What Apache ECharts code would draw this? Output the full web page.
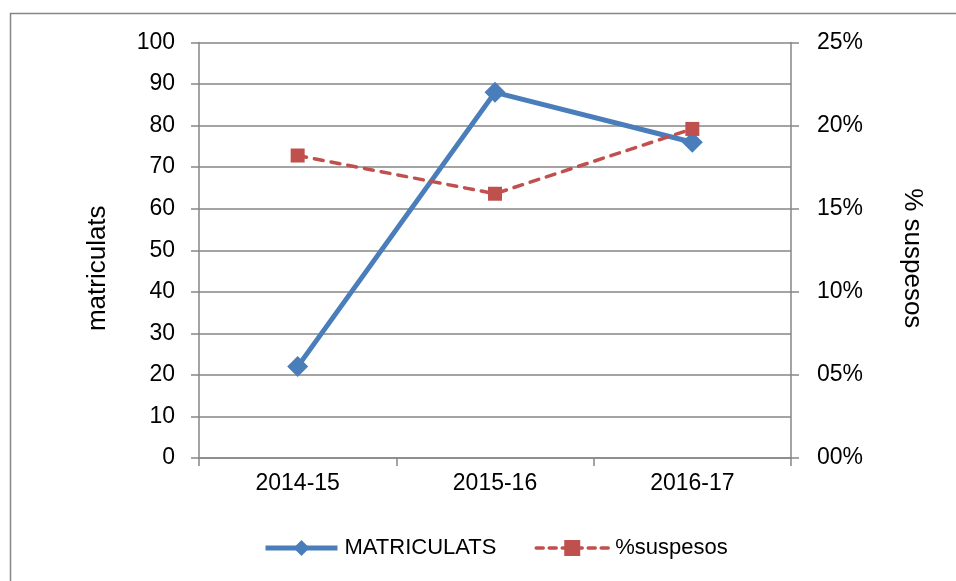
<!DOCTYPE html>
<html>
<head>
<meta charset="utf-8">
<script src="https://cdn.jsdelivr.net/npm/echarts@6/dist/echarts.min.js"></script>
<style>
html,body{margin:0;padding:0;background:#fff;}
#chart{width:956px;height:581px;}
</style>
</head>
<body>
<div id="chart"></div>
<script>
const categories = ['2014-15', '2015-16', '2016-17'];
const matriculats = [22, 88, 76];
const suspesos = [0.182, 0.159, 0.198];
const leftTicks = [0, 100, 10];
const rightTicks = [0, 0.25, 0.05];

const FONT = 'Liberation Sans';
const GRAY = '#868686';
const BLUE = '#4A7EBB';
const RED = '#C0504D';
const chart = echarts.init(document.getElementById('chart'));
chart.setOption({
  animation: false,
  backgroundColor: '#fff',
  textStyle: { fontFamily: FONT, color: '#000' },
  graphic: [{
    type: 'rect', silent: true, z: -1,
    shape: { x: 10.5, y: 13.5, width: 1000, height: 1000 },
    style: { fill: 'none', stroke: GRAY, lineWidth: 1.5 }
  }],
  grid: { left: 199, right: 165, top: 42.5, bottom: 123, containLabel: false },
  legend: {
    bottom: 22,
    left: 263,
    padding: 0,
    itemWidth: 72,
    itemHeight: 20,
    itemGap: 38,
    textStyle: { fontFamily: FONT, fontSize: 22, color: '#000', padding: [0, 0, 0, 2] },
    data: [
      { name: 'MATRICULATS', itemStyle: { color: BLUE }, lineStyle: { color: BLUE, width: 5 } },
      { name: '%suspesos', itemStyle: { color: RED }, lineStyle: { color: RED, width: 3.5, type: [7, 6], cap: 'round' } }
    ]
  },
  xAxis: {
    type: 'category',
    data: categories,
    boundaryGap: true,
    axisLine: { lineStyle: { color: GRAY, width: 1.5 } },
    axisTick: { show: true, length: 8, lineStyle: { color: GRAY, width: 1.5 } },
    axisLabel: { fontFamily: FONT, fontSize: 23, color: '#000', margin: 14 },
    splitLine: { show: false }
  },
  yAxis: [{
    type: 'value',
    min: leftTicks[0], max: leftTicks[1], interval: leftTicks[2],
    name: 'matriculats',
    nameLocation: 'middle',
    nameRotate: 90,
    nameGap: 88,
    nameTextStyle: { fontFamily: FONT, fontSize: 26, color: '#000', padding: [0, 36, 0, 0] },
    axisLine: { show: true, lineStyle: { color: GRAY, width: 1.5 } },
    axisTick: { show: true, length: 8, lineStyle: { color: GRAY, width: 1.5 } },
    axisLabel: { fontFamily: FONT, fontSize: 23, color: '#000', margin: 24 },
    splitLine: { show: true, lineStyle: { color: GRAY, width: 1.5 } }
  }, {
    type: 'value',
    position: 'right',
    min: rightTicks[0], max: rightTicks[1], interval: rightTicks[2],
    name: '% suspesos',
    nameLocation: 'middle',
    nameRotate: -90,
    nameGap: 108,
    nameTextStyle: { fontFamily: FONT, fontSize: 26, color: '#000', padding: [0, 0, 0, 16] },
    axisLine: { show: true, lineStyle: { color: GRAY, width: 1.5 } },
    axisTick: { show: true, length: 8, lineStyle: { color: GRAY, width: 1.5 } },
    axisLabel: {
      fontFamily: FONT, fontSize: 23, color: '#000', margin: 26,
      formatter: v => String(Math.round(v * 100)).padStart(2, '0') + '%'
    },
    splitLine: { show: false }
  }],
  series: [{
    name: 'MATRICULATS',
    type: 'line',
    yAxisIndex: 0,
    data: matriculats,
    symbol: 'diamond',
    symbolSize: 21,
    lineStyle: { color: BLUE, width: 5 },
    itemStyle: { color: BLUE },
    z: 3
  }, {
    name: '%suspesos',
    type: 'line',
    yAxisIndex: 1,
    data: suspesos,
    symbol: 'rect',
    symbolSize: 14,
    lineStyle: { color: RED, width: 3.5, type: [9, 8], cap: 'round' },
    itemStyle: { color: RED },
    z: 4
  }]
});
</script>
</body>
</html>
